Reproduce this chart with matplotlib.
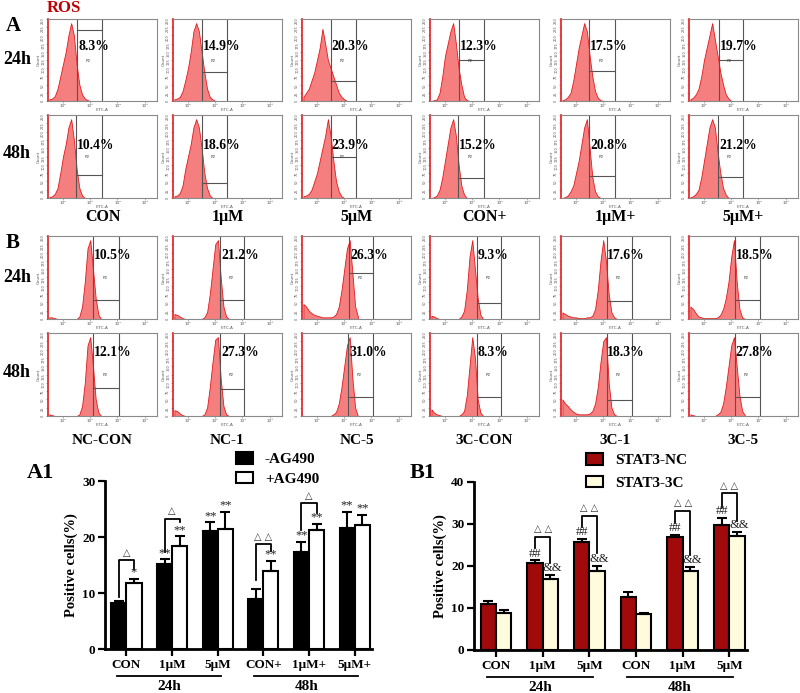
import numpy as np
import matplotlib
matplotlib.use("Agg")
import matplotlib.pyplot as plt
from matplotlib.ticker import LogLocator, NullFormatter, FixedLocator

plt.rcParams['font.family'] = ['Liberation Serif', 'DejaVu Sans']

W, H = 800, 693
fig = plt.figure(figsize=(8, 6.93), dpi=100)


def px_axes(x0, y0, w, h):
    return fig.add_axes([x0 / W, 1 - (y0 + h) / H, w / W, h / H])


# ---------------- flow cytometry data ----------------
log_grid = [1.5, 1.6, 1.7, 1.8, 1.9, 2.0, 2.1, 2.2, 2.3, 2.4, 2.5,
            2.6, 2.7, 2.8, 2.9, 3.0, 3.1, 3.2, 3.3, 3.4, 3.5]

top_cols = ["CON", "1μM", "5μM", "CON+", "1μM+", "5μM+"]
bot_cols = ["NC-CON", "NC-1", "NC-5", "3C-CON", "3C-1", "3C-5"]

hist_A24 = [
    [0.02, 0.03, 0.06, 0.15, 0.30, 0.45, 0.60, 0.80, 0.95, 0.80, 0.45, 0.20, 0.08, 0.03, 0.01, 0, 0, 0, 0, 0, 0],
    [0.02, 0.03, 0.05, 0.12, 0.25, 0.40, 0.60, 0.85, 0.95, 0.85, 0.60, 0.35, 0.15, 0.05, 0.02, 0, 0, 0, 0, 0, 0],
    [0.05, 0.10, 0.15, 0.25, 0.35, 0.50, 0.65, 0.88, 0.70, 0.50, 0.40, 0.30, 0.20, 0.10, 0.05, 0.02, 0, 0, 0, 0, 0],
    [0, 0.01, 0.02, 0.10, 0.30, 0.55, 0.70, 0.85, 0.95, 0.70, 0.40, 0.20, 0.05, 0.01, 0, 0, 0, 0, 0, 0, 0],
    [0.01, 0.02, 0.05, 0.10, 0.25, 0.45, 0.65, 0.80, 0.95, 0.85, 0.55, 0.30, 0.12, 0.04, 0.01, 0, 0, 0, 0, 0, 0],
    [0.02, 0.04, 0.08, 0.15, 0.30, 0.50, 0.65, 0.80, 0.95, 0.75, 0.55, 0.35, 0.20, 0.08, 0.03, 0, 0, 0, 0, 0, 0],
]
hist_A48 = [
    [0.01, 0.02, 0.05, 0.12, 0.30, 0.50, 0.65, 0.85, 0.95, 0.70, 0.35, 0.12, 0.03, 0, 0, 0, 0, 0, 0, 0, 0],
    [0.02, 0.03, 0.06, 0.15, 0.35, 0.50, 0.65, 0.85, 0.95, 0.85, 0.60, 0.30, 0.12, 0.03, 0, 0, 0, 0, 0, 0, 0],
    [0.02, 0.03, 0.05, 0.10, 0.20, 0.30, 0.45, 0.60, 0.75, 0.95, 0.75, 0.45, 0.20, 0.08, 0.02, 0, 0, 0, 0, 0, 0],
    [0, 0.01, 0.03, 0.10, 0.25, 0.45, 0.65, 0.85, 0.95, 0.75, 0.40, 0.15, 0.04, 0, 0, 0, 0, 0, 0, 0, 0],
    [0, 0.01, 0.03, 0.08, 0.15, 0.30, 0.45, 0.65, 0.85, 0.95, 0.60, 0.25, 0.08, 0.02, 0, 0, 0, 0, 0, 0, 0],
    [0.01, 0.02, 0.05, 0.10, 0.25, 0.45, 0.65, 0.85, 0.95, 0.85, 0.55, 0.30, 0.12, 0.04, 0, 0, 0, 0, 0, 0, 0],
]
hist_B24 = [
    [0.02, 0.02, 0.01, 0, 0, 0, 0, 0, 0, 0, 0, 0.03, 0.15, 0.45, 0.85, 0.95, 0.60, 0.25, 0.05, 0, 0],
    [0.06, 0.05, 0.03, 0.01, 0, 0, 0, 0, 0, 0, 0, 0.02, 0.08, 0.30, 0.60, 0.90, 0.95, 0.50, 0.15, 0.03, 0],
    [0.18, 0.15, 0.10, 0.07, 0.05, 0.04, 0.03, 0.02, 0.02, 0.02, 0.02, 0.03, 0.06, 0.15, 0.35, 0.60, 0.85, 0.95, 0.55, 0.15, 0.03],
    [0.04, 0.03, 0.01, 0, 0, 0, 0, 0, 0, 0, 0, 0.03, 0.10, 0.35, 0.75, 0.95, 0.60, 0.25, 0.05, 0, 0],
    [0.08, 0.06, 0.04, 0.03, 0.02, 0.02, 0.01, 0.01, 0.01, 0.02, 0.02, 0.04, 0.12, 0.35, 0.70, 0.95, 0.70, 0.30, 0.08, 0.02, 0],
    [0.15, 0.12, 0.07, 0.03, 0.02, 0.01, 0.01, 0.01, 0.01, 0.01, 0.02, 0.05, 0.12, 0.25, 0.45, 0.75, 0.95, 0.45, 0.12, 0.02, 0],
]
hist_B48 = [
    [0.02, 0.01, 0, 0, 0, 0, 0, 0, 0, 0, 0, 0.02, 0.12, 0.40, 0.85, 0.95, 0.60, 0.20, 0.04, 0, 0],
    [0.07, 0.06, 0.03, 0.01, 0, 0, 0, 0, 0, 0, 0, 0.02, 0.10, 0.35, 0.65, 0.92, 0.95, 0.45, 0.12, 0.02, 0],
    [0, 0, 0, 0, 0, 0, 0, 0, 0, 0, 0, 0.02, 0.05, 0.15, 0.35, 0.60, 0.85, 0.95, 0.45, 0.10, 0],
    [0.08, 0.04, 0.02, 0.01, 0, 0, 0, 0, 0, 0, 0, 0.02, 0.06, 0.25, 0.60, 0.95, 0.70, 0.20, 0.04, 0, 0],
    [0.20, 0.15, 0.12, 0.08, 0.05, 0.03, 0.02, 0.02, 0.02, 0.02, 0.03, 0.06, 0.15, 0.35, 0.65, 0.90, 0.95, 0.40, 0.10, 0.02, 0],
    [0.02, 0.01, 0, 0, 0, 0, 0, 0, 0, 0, 0.02, 0.05, 0.15, 0.35, 0.60, 0.85, 0.95, 0.60, 0.25, 0.06, 0.01],
]

pct_A24 = [8.3, 14.9, 20.3, 12.3, 17.5, 19.7]
pct_A48 = [10.4, 18.6, 23.9, 15.2, 20.8, 21.2]
pct_B24 = [10.5, 21.2, 26.3, 9.3, 17.6, 18.5]
pct_B48 = [12.1, 27.3, 31.0, 8.3, 18.3, 27.8]

gate_lo_A24 = [2.53, 2.50, 2.51, 2.50, 2.49, 2.54]
gate_lo_A48 = [2.47, 2.50, 2.51, 2.48, 2.49, 2.52]
gate_lo_B24 = [3.10, 3.18, 3.18, 3.18, 3.12, 3.14]
gate_lo_B48 = [3.10, 3.18, 3.15, 3.18, 3.12, 3.14]
gate_hi_A = 3.44
gate_hi_B = 4.07
gate_h_A24 = [0.86, 0.35, 0.24, 0.50, 0.36, 0.50]
gate_h_A48 = [0.28, 0.18, 0.50, 0.24, 0.27, 0.25]
gate_h_B24 = [0.23, 0.23, 0.55, 0.19, 0.22, 0.23]
gate_h_B48 = [0.34, 0.32, 0.23, 0.23, 0.19, 0.23]

col_left = [48, 173, 302, 430, 561, 689]
panel_w = 109
rows = [
    (19, 82, hist_A24, pct_A24, gate_lo_A24, gate_hi_A, gate_h_A24, 0.67),
    (115, 83, hist_A48, pct_A48, gate_lo_A48, gate_hi_A, gate_h_A48, 0.63),
    (236, 83, hist_B24, pct_B24, gate_lo_B24, gate_hi_B, gate_h_B24, 0.77),
    (333, 83, hist_B48, pct_B48, gate_lo_B48, gate_hi_B, gate_h_B48, 0.77),
]

xg = 10 ** np.array(log_grid)
for (top, hgt, hists, pcts, glo, ghi, gh, ty) in rows:
    for j in range(6):
        ax = px_axes(col_left[j], top, panel_w, hgt)
        ax.set_xscale('log')
        ax.set_xlim(10 ** 1.45, 10 ** 5.45)
        ax.set_ylim(0, 1.0)
        ax.fill_between(xg, hists[j], 0, facecolor='#f57f7f', edgecolor='#e3191c', lw=0.6)
        g0 = 10 ** glo[j]
        g1 = 10 ** ghi
        ax.axvline(g0, color='#555555', lw=0.8)
        ax.axvline(g1, color='#555555', lw=0.8)
        ax.plot([g0, g1], [gh[j], gh[j]], color='#555555', lw=0.8)
        ax.text(10 ** (glo[j] + 0.03), ty, f"{pcts[j]:.1f}%", transform=ax.get_xaxis_transform(),
                fontsize=9.8, fontweight='bold', ha='left', va='center')
        ax.text(10 ** ((glo[j] + ghi) / 2 - 0.05), 0.49, "P2", fontsize=3, color='#444444',
                ha='center', va='center', family='DejaVu Sans')
        for s in ['top', 'right', 'bottom']:
            ax.spines[s].set_color('#8a8a8a')
            ax.spines[s].set_linewidth(0.8)
        ax.spines['left'].set_color('#e3191c')
        ax.spines['left'].set_linewidth(1.2)
        ax.xaxis.set_major_locator(FixedLocator([1e2, 1e3, 1e4, 1e5]))
        ax.xaxis.set_minor_locator(LogLocator(base=10, subs=np.arange(2, 10)))
        ax.xaxis.set_minor_formatter(NullFormatter())
        ax.set_xticklabels(["10²", "10³", "10⁴", "10⁵"], fontsize=3, family='DejaVu Sans', color='#555555')
        ax.set_yticks(np.linspace(0, 1, 11))
        ax.set_yticklabels([str(int(v)) for v in np.linspace(0, 250, 11)], fontsize=2.5,
                           family='DejaVu Sans', color='#555555', rotation=90)
        ax.tick_params(axis='both', which='both', length=1.5, width=0.4, pad=0.5, color='#777777')
        ax.set_xlabel("FITC-A", fontsize=3, family='DejaVu Sans', labelpad=0, color='#555555')
        ax.set_ylabel("Count", fontsize=3, family='DejaVu Sans', labelpad=0.5, color='#555555')

# column / row labels
for j in range(6):
    cx = (col_left[j] + panel_w / 2) / W
    fig.text(cx, 1 - 217 / H, top_cols[j], ha='center', va='center', fontsize=11.5, fontweight='bold')
    fig.text(cx, 1 - 440 / H, bot_cols[j], ha='center', va='center', fontsize=11, fontweight='bold')
for y, lab in [(60, "24h"), (153, "48h"), (277, "24h"), (373, "48h")]:
    fig.text(3 / W, 1 - y / H, lab, ha='left', va='center', fontsize=13, fontweight='bold')
fig.text(6 / W, 1 - 26 / H, "A", ha='left', va='center', fontsize=15, fontweight='bold')
fig.text(6 / W, 1 - 243 / H, "B", ha='left', va='center', fontsize=15, fontweight='bold')
fig.text(47 / W, 1 - 8 / H, "ROS", ha='left', va='center', fontsize=12, fontweight='bold', color='#c00000')

# ---------------- bar chart data ----------------
a1_groups = ["CON", "1μM", "5μM", "CON+", "1μM+", "5μM+"]
a1_neg = [8.3, 15.2, 21.1, 8.9, 17.3, 21.6]
a1_neg_err = [0.35, 0.8, 1.5, 1.8, 1.8, 2.8]
a1_pos = [11.8, 18.4, 21.5, 14.0, 21.3, 22.2]
a1_pos_err = [0.7, 1.7, 2.9, 1.7, 1.1, 1.8]
a1_neg_sig = ["", "**", "**", "", "**", "**"]
a1_pos_sig = ["*", "**", "**", "**", "**", "**"]
# (group, left start, top, right end, label)
a1_brackets = [(0, 9.3, 15.9, 14.2, "△"), (1, 17.3, 23.3, 22.6, "△"),
               (3, 12.3, 18.75, 17.5, "△ △"), (4, 21.2, 26.0, 24.2, "△")]

b1_groups = ["CON", "1μM", "5μM", "CON", "1μM", "5μM"]
b1_nc = [10.95, 20.6, 25.8, 12.6, 26.9, 29.8]
b1_nc_err = [0.6, 0.8, 0.7, 1.3, 0.6, 1.7]
b1_3c = [8.8, 16.9, 18.9, 8.6, 18.8, 27.2]
b1_3c_err = [0.7, 1.0, 1.2, 0.3, 1.0, 0.9]
b1_nc_sig = ["", "##", "##", "", "##", "##"]
b1_3c_sig = ["", "&&", "&&", "", "&&", "&&"]
b1_brackets = [(1, 24.2, 27.0, 20.8, "△ △"), (2, 29.4, 32.0, 23.0, "△ △"),
               (4, 30.2, 33.2, 22.6, "△ △"), (5, 34.1, 37.3, 30.8, "△ △")]

time_groups = ["24h", "48h"]


def bar_panel(ax, v1, e1, v2, e2, c1, c2, ylim, yticks, lab1, lab2, sig1, sig2,
              brackets, xlabels, leg_anchor, leg_space, sig2_dx):
    x = np.arange(len(v1))
    w = 0.33
    u = ylim[1] / 30
    ekw = dict(ecolor='black', elinewidth=1.5, capsize=3.5, capthick=1.5)
    ax.bar(x - w / 2, v1, w, color=c1, edgecolor='black', lw=1.5,
           yerr=[np.zeros(len(e1)), e1], error_kw=ekw, label=lab1, zorder=3)
    ax.bar(x + w / 2, v2, w, color=c2, edgecolor='black', lw=1.5,
           yerr=[np.zeros(len(e2)), e2], error_kw=ekw, label=lab2, zorder=3)
    ax.set_ylim(*ylim)
    ax.set_xlim(-0.47, len(v1) - 0.62)
    ax.set_yticks(yticks)
    ax.set_yticklabels([str(t) for t in yticks], fontsize=9.5, fontweight='bold')
    ax.set_xticks(x)
    ax.set_xticklabels(xlabels, fontsize=9.5, fontweight='bold')
    ax.tick_params(axis='both', length=5, width=1.6, pad=2)
    for s in ['top', 'right']:
        ax.spines[s].set_visible(False)
    for s in ['left', 'bottom']:
        ax.spines[s].set_linewidth(2)
    ax.set_ylabel("Positive cells(%)", fontsize=10.5, fontweight='bold', labelpad=3)
    for i in range(len(v1)):
        if sig1[i]:
            ax.text(x[i] - w / 2, v1[i] + e1[i] + 0.1 * u, sig1[i], ha='center', va='bottom',
                    fontsize=9, color='#222222')
        if sig2[i]:
            ax.text(x[i] + w / 2 + sig2_dx, v2[i] + e2[i] + 0.1 * u, sig2[i], ha='center', va='bottom',
                    fontsize=9, color='#222222')
    for (g, yl, yt, yr, lab) in brackets:
        ax.plot([g - w / 2, g - w / 2, g + w / 2, g + w / 2], [yl, yt, yt, yr], color='black', lw=1.3,
                clip_on=False)
        ax.text(g, yt + 0.4 * u, lab, ha='center', va='bottom', fontsize=7,
                family=['DejaVu Sans'], color='#333333', clip_on=False)
    # group underlines
    tr = ax.get_xaxis_transform()
    for k, tg in enumerate(time_groups):
        x0 = 3 * k - 0.2
        x1 = 3 * k + 2.08
        ax.plot([x0, x1], [-0.16, -0.16], color='black', lw=1.3, transform=tr, clip_on=False)
        ax.text((x0 + x1) / 2, -0.225, tg, transform=tr, ha='center', va='center',
                fontsize=11, fontweight='bold')
    ax.legend(loc='upper left', bbox_to_anchor=leg_anchor, frameon=False,
              prop=dict(family='Liberation Serif', weight='bold', size=11),
              handlelength=1.1, handleheight=0.75, handletextpad=0.8, labelspacing=leg_space,
              borderaxespad=0, borderpad=0)
    return ax


axA = px_axes(105, 481, 267, 168)
bar_panel(axA, a1_neg, a1_neg_err, a1_pos, a1_pos_err, 'black', 'white', (0, 30), [0, 10, 20, 30],
          "-AG490", "+AG490", a1_neg_sig, a1_pos_sig, a1_brackets, a1_groups, (0.49, 1.17), 0.35, 0.0)

axB = px_axes(474, 482, 273, 168)
bar_panel(axB, b1_nc, b1_nc_err, b1_3c, b1_3c_err, '#a00a0a', '#fffbdc', (0, 40), [0, 10, 20, 30, 40],
          "STAT3-NC", "STAT3-3C", b1_nc_sig, b1_3c_sig, b1_brackets, b1_groups, (0.41, 1.17), 0.55, 0.05)

fig.text(27 / W, 1 - 473 / H, "A1", ha='left', va='center', fontsize=16, fontweight='bold')
fig.text(410 / W, 1 - 473 / H, "B1", ha='left', va='center', fontsize=16, fontweight='bold')

fig.savefig("out.png", dpi=100)
